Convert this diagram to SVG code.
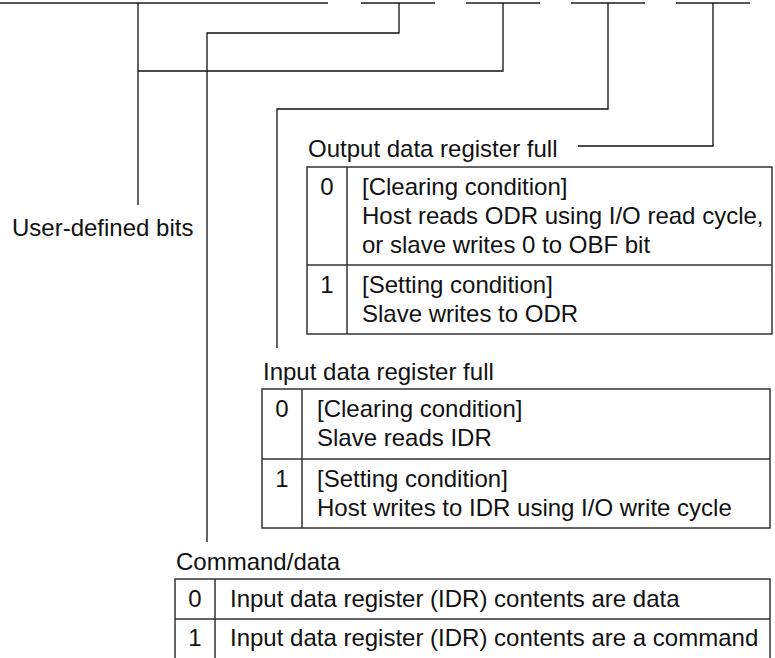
<svg xmlns="http://www.w3.org/2000/svg" width="775" height="658" viewBox="0 0 775 658">
<style>
.bus{stroke:#555;stroke-width:2;fill:none}
.ln{stroke:#111;stroke-width:1.3;fill:none}
.box{stroke:#333;stroke-width:1.5;fill:none}
text{font-family:"Liberation Sans",Arial,sans-serif;font-size:24px;fill:#111}
.c{text-anchor:middle}
</style>
<rect width="775" height="658" fill="#fff"/>
<g id="connectors">
<path class="bus" d="M0 3H328M361 3H435M466 3H540M571 3H645M676 3H750"/>
<path class="ln" d="M138 3V205"/>
<path class="ln" d="M399 3V33H207V542"/>
<path class="ln" d="M503 3V71H138"/>
<path class="ln" d="M608 3V109H277V348"/>
<path class="ln" d="M713 3V146H578"/>
</g>
<g id="user-defined">
<text x="12" y="236">User-defined bits</text>
</g>
<g id="obf">
<text x="308" y="157">Output data register full</text>
<rect class="box" x="307" y="167" width="465" height="167"/>
<path class="box" d="M347 167V334M307 265H772"/>
<text class="c" x="327" y="195">0</text>
<text x="362" y="195">[Clearing condition]</text>
<text x="362" y="224">Host reads ODR using I/O read cycle,</text>
<text x="362" y="253">or slave writes 0 to OBF bit</text>
<text class="c" x="327" y="293">1</text>
<text x="362" y="293">[Setting condition]</text>
<text x="362" y="322">Slave writes to ODR</text>
</g>
<g id="ibf">
<text x="263" y="380">Input data register full</text>
<rect class="box" x="262" y="389" width="508" height="139"/>
<path class="box" d="M302 389V528M262 459H770"/>
<text class="c" x="282" y="417">0</text>
<text x="317" y="417">[Clearing condition]</text>
<text x="317" y="446">Slave reads IDR</text>
<text class="c" x="282" y="487">1</text>
<text x="317" y="487">[Setting condition]</text>
<text x="317" y="516">Host writes to IDR using I/O write cycle</text>
</g>
<g id="cd">
<text x="176" y="570">Command/data</text>
<rect class="box" x="175" y="579" width="595" height="85"/>
<path class="box" d="M215 579V664M175 619H770"/>
<text class="c" x="195" y="607">0</text>
<text x="230" y="607">Input data register (IDR) contents are data</text>
<text class="c" x="195" y="646">1</text>
<text x="230" y="646">Input data register (IDR) contents are a command</text>
</g>
</svg>
